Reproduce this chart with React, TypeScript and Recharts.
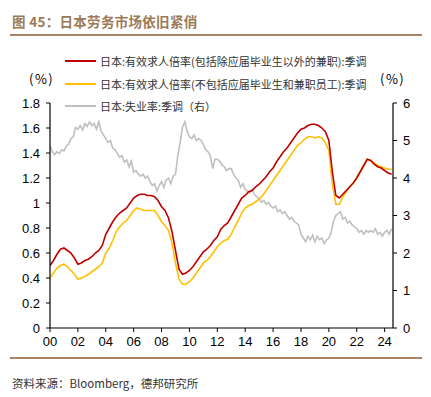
import { LineChart, Line, XAxis, YAxis } from "recharts";

// 日本有效求人倍率（季度，2000Q1 起）
const ratioIncl = [
  0.5, 0.54, 0.59, 0.63, 0.64, 0.62, 0.6, 0.56, 0.51, 0.52, 0.54, 0.55,
  0.57, 0.6, 0.62, 0.66, 0.75, 0.8, 0.85, 0.89, 0.92, 0.94, 0.96, 1.0,
  1.04, 1.06, 1.07, 1.07, 1.06, 1.06, 1.05, 1.02, 0.97, 0.94, 0.88, 0.77,
  0.62, 0.47, 0.43, 0.44, 0.46, 0.49, 0.53, 0.57, 0.61, 0.63, 0.66, 0.7,
  0.73, 0.79, 0.82, 0.84, 0.89, 0.94, 0.99, 1.04, 1.06, 1.09, 1.1, 1.13,
  1.15, 1.18, 1.21, 1.25, 1.28, 1.33, 1.37, 1.41, 1.44, 1.48, 1.52, 1.56,
  1.59, 1.6, 1.62, 1.63, 1.63, 1.62, 1.6, 1.57, 1.5, 1.25, 1.06, 1.04,
  1.07, 1.1, 1.13, 1.16, 1.2, 1.25, 1.3, 1.35, 1.34, 1.31, 1.29, 1.28,
  1.26, 1.24, 1.23,
];
const ratioExcl = [
  0.4, 0.44, 0.48, 0.5, 0.51, 0.49, 0.46, 0.43, 0.39, 0.4, 0.41, 0.43,
  0.45, 0.47, 0.49, 0.52, 0.6, 0.64, 0.7, 0.77, 0.81, 0.84, 0.86, 0.9,
  0.94, 0.96, 0.95, 0.94, 0.94, 0.94, 0.94, 0.9, 0.85, 0.82, 0.78, 0.68,
  0.52, 0.39, 0.35, 0.35, 0.37, 0.4, 0.44, 0.48, 0.52, 0.54, 0.57, 0.61,
  0.65, 0.68, 0.7, 0.71, 0.75, 0.81, 0.86, 0.92, 0.96, 0.98, 0.99, 1.01,
  1.03, 1.06, 1.1, 1.14, 1.18, 1.22, 1.26, 1.3, 1.34, 1.38, 1.42, 1.46,
  1.48, 1.51, 1.53, 1.53, 1.52, 1.53, 1.52, 1.48, 1.42, 1.15, 0.99, 0.99,
  1.05, 1.09, 1.13, 1.16, 1.2, 1.25, 1.3, 1.35, 1.34, 1.32, 1.3, 1.29,
  1.28, 1.27, 1.27,
];

// 日本失业率（每两个月一个点，2000 年初起）
const unemp = [
  4.85, 4.7, 4.62, 4.7, 4.65, 4.75, 4.72, 4.85, 4.9, 5.05, 5.1, 5.35,
  5.3, 5.4, 5.28, 5.45, 5.38, 5.5, 5.4, 5.45, 5.3, 5.5, 5.25, 5.15,
  5.05, 4.95, 5.0, 4.8, 4.75, 4.65, 4.55, 4.6, 4.42, 4.48, 4.3, 4.45,
  4.15, 4.2, 4.1, 4.05, 4.1, 4.0, 4.05, 3.9, 3.8, 3.85, 3.65, 3.8,
  3.9, 3.75, 3.95, 4.0, 3.85, 4.05, 4.1, 4.6, 4.95, 5.35, 5.5, 5.25,
  5.1, 5.05, 5.15, 5.0, 5.05, 5.0, 4.9, 4.75, 4.7, 4.6, 4.25, 4.5,
  4.5, 4.45, 4.35, 4.3, 4.2, 4.25, 4.25, 4.1, 4.0, 3.95, 3.75, 3.85,
  3.7, 3.65, 3.6, 3.7, 3.55, 3.5, 3.45, 3.35, 3.4, 3.3, 3.35, 3.25,
  3.2, 3.25, 3.1, 3.15, 3.05, 3.1, 3.0, 2.9, 2.95, 2.85, 2.8, 2.75,
  2.5, 2.4, 2.3, 2.45, 2.35, 2.48, 2.3, 2.45, 2.35, 2.4, 2.25, 2.35,
  2.4, 2.55, 2.85, 3.0, 3.05, 3.1, 2.9, 2.95, 2.8, 2.85, 2.75, 2.7,
  2.65, 2.55, 2.6, 2.5, 2.6, 2.55, 2.6, 2.55, 2.65, 2.5, 2.55, 2.45,
  2.55, 2.6, 2.5, 2.65,
];

const xTicks = [0, 2, 4, 6, 8, 10, 12, 14, 16, 18, 20, 22, 24];
const leftTicks = [0, 0.2, 0.4, 0.6, 0.8, 1, 1.2, 1.4, 1.6, 1.8];
const rightTicks = [0, 1, 2, 3, 4, 5, 6];

const legendItems = [
  { name: "日本:有效求人倍率(包括除应届毕业生以外的兼职):季调", color: "#C00000" },
  { name: "日本:有效求人倍率(不包括应届毕业生和兼职员工):季调", color: "#FFC000" },
  { name: "日本:失业率:季调（右）", color: "#BFBFBF" },
];

// merge both frequencies into one table keyed by time
const rows = new Map<string, any>();
const put = (t: number, key: string, v: number) => {
  const k = t.toFixed(4);
  if (!rows.has(k)) rows.set(k, { t });
  rows.get(k)[key] = v;
};
ratioIncl.forEach((v, i) => put(i / 4, "incl", v));
ratioExcl.forEach((v, i) => put(i / 4, "excl", v));
unemp.forEach((v, i) => put(i / 6, "unemp", v));
const data = Array.from(rows.values()).sort((a, b) => a.t - b.t);

const tickStyle = { fontSize: 13, fill: "#000", fontFamily: "Liberation Sans, Arial, sans-serif" };
const cjk = "'Noto Sans CJK SC', sans-serif";
const axisStroke = { stroke: "#000", strokeWidth: 1.2 };

export default function App() {
  return (
    <div
      style={{
        position: "absolute",
        left: 0,
        top: 0,
        width: 431,
        height: 397,
        background: "#fff",
        overflow: "hidden",
      }}
    >
      <div
        style={{
          position: "absolute",
          left: 12,
          top: 11,
          fontSize: 13.5,
          fontWeight: 700,
          color: "#9C7A58",
          fontFamily: cjk,
          letterSpacing: 0.3,
          lineHeight: "20px",
          whiteSpace: "nowrap",
        }}
      >
        图 45：日本劳务市场依旧紧俏
      </div>
      <div style={{ position: "absolute", left: 10, top: 34, width: 412, height: 2, background: "#A88462" }} />

      {legendItems.map((it, i) => {
        const y = [61, 84, 106][i];
        return (
          <div key={it.name}>
            <div style={{ position: "absolute", left: 65, top: y - 1, width: 31, height: 2, background: it.color }} />
            <div
              style={{
                position: "absolute",
                left: 100,
                top: y - 8,
                fontSize: 11,
                lineHeight: "16px",
                color: "#333",
                fontFamily: cjk,
                whiteSpace: "nowrap",
              }}
            >
              {it.name}
            </div>
          </div>
        );
      })}

      <div style={{ position: "absolute", left: 29, top: 69, fontSize: 13, fontFamily: cjk, color: "#000", letterSpacing: 1.5 }}>
        (%)
      </div>
      <div style={{ position: "absolute", left: 380, top: 69, fontSize: 13, fontFamily: cjk, color: "#000", letterSpacing: 1.5 }}>
        (%)
      </div>

      <div style={{ position: "absolute", left: 0, top: 0 }}>
        <LineChart width={431} height={397} data={data} margin={{ top: 103, right: 0, bottom: 49, left: 0 }}>
          <XAxis
            dataKey="t"
            type="number"
            domain={[0, 24.6]}
            ticks={xTicks}
            allowDataOverflow
            tickFormatter={(v: number) => String(v).padStart(2, "0")}
            tick={tickStyle}
            tickSize={4}
            tickMargin={5}
            height={20}
            axisLine={axisStroke}
            tickLine={{ stroke: "#000" }}
          />
          <YAxis
            yAxisId="left"
            orientation="left"
            domain={[0, 1.8]}
            ticks={leftTicks}
            width={50}
            tick={tickStyle}
            tickSize={4}
            tickMargin={6}
            axisLine={axisStroke}
            tickLine={{ stroke: "#000" }}
          />
          <YAxis
            yAxisId="right"
            orientation="right"
            domain={[0, 6]}
            ticks={rightTicks}
            width={38}
            tick={tickStyle}
            tickSize={4}
            tickMargin={6}
            axisLine={axisStroke}
            tickLine={{ stroke: "#000" }}
          />
          <Line
            yAxisId="right"
            dataKey="unemp"
            stroke="#BFBFBF"
            strokeWidth={1.6}
            dot={false}
            connectNulls
            isAnimationActive={false}
          />
          <Line
            yAxisId="left"
            dataKey="excl"
            stroke="#FFC000"
            strokeWidth={1.6}
            dot={false}
            connectNulls
            isAnimationActive={false}
          />
          <Line
            yAxisId="left"
            dataKey="incl"
            stroke="#C00000"
            strokeWidth={1.6}
            dot={false}
            connectNulls
            isAnimationActive={false}
          />
        </LineChart>
      </div>

      <div style={{ position: "absolute", left: 10, top: 357, width: 412, height: 2, background: "#A88462" }} />
      <div
        style={{
          position: "absolute",
          left: 12,
          top: 375,
          fontSize: 11.5,
          lineHeight: "16px",
          color: "#333",
          fontFamily: cjk,
          whiteSpace: "nowrap",
        }}
      >
        资料来源：Bloomberg，德邦研究所
      </div>
    </div>
  );
}
